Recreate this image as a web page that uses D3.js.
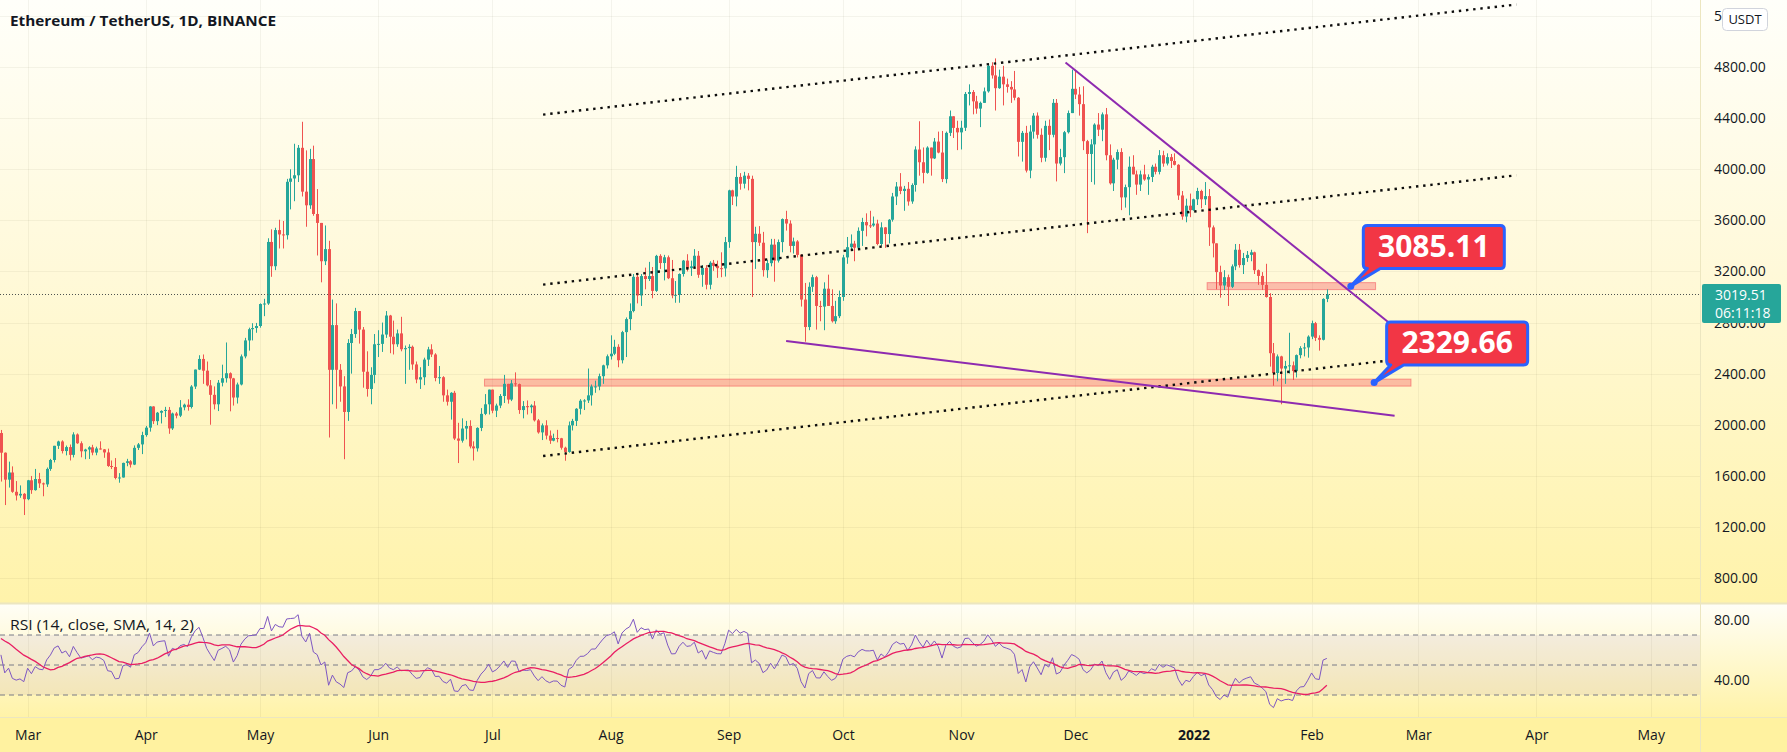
<!DOCTYPE html>
<html><head><meta charset="utf-8">
<script src="https://cdn.jsdelivr.net/npm/d3@7"></script>
<style>html,body{margin:0;padding:0;background:#fff6c0;}svg{display:block;}</style>
</head><body>
<svg id="c" width="1787" height="752"></svg>
<script>
// ---------------- DATA ----------------
const firstDate = "2021-02-22";
const firstOpen = 1935;
// daily closes Feb 22 2021 .. Feb 5 2022
const closes = [
1781,1570,1626,1475,1446,1459,1417,
1565,1488,1575,1541,1533,1654,1724,1835,1869,1794,1825,1764,1924,1855,1792,1806,1823,1782,1814,1807,1783,1677,1669,1583,1587,1701,1714,1688,1819,1846,1919,
1977,2143,2028,2094,2108,2116,1971,2088,2071,2136,2157,2139,2299,2432,2515,2423,2308,2234,2160,2329,2364,2403,2363,2213,2315,2535,2660,2748,2757,2773,
2945,2949,3431,3241,3524,3490,3484,3902,3928,3953,4168,3825,3718,4080,3650,3580,3280,3375,2430,2780,2430,2300,2100,2640,2710,2890,2745,2415,2280,2390,2630,
2633,2706,2855,2689,2630,2715,2591,2600,2610,2472,2354,2372,2510,2590,2550,2366,2372,2230,2180,2250,1892,1875,1970,1990,1830,1815,1975,2085,2160,2275,
2110,2150,2225,2320,2197,2324,2318,2115,2146,2137,2150,2034,1940,1995,1915,1875,1896,1894,1820,1787,1995,2030,2125,2188,2190,2230,2300,2300,2380,2465,2536,
2556,2610,2505,2725,2827,2890,3158,3012,3164,3141,3164,3048,3322,3266,3311,3147,3012,3017,3180,3285,3226,3240,3323,3174,3228,3096,3268,3244,3226,3224,3430,
3835,3787,3940,3887,3950,3925,3430,3495,3425,3210,3265,3410,3285,3430,3610,3575,3400,3435,3330,2980,2765,3080,3155,2930,2925,3065,2930,2810,2850,3000,
3310,3390,3418,3386,3518,3587,3561,3560,3575,3415,3545,3493,3605,3787,3865,3830,3847,3748,3877,4155,4055,3972,4170,4085,4217,4131,3923,4285,4415,4324,4289,
4325,4590,4605,4532,4475,4520,4610,4810,4735,4635,4725,4665,4645,4625,4560,4215,4285,3990,4295,4420,4270,4090,4340,4270,4520,4045,4095,4290,4440,4630,
4585,4510,4220,4120,4195,4350,4310,4430,4110,3890,4075,4135,3780,3860,4020,3960,3880,3960,3920,3940,4020,3980,4110,4045,4095,4065,4035,3795,3630,3715,3680,
3765,3830,3765,3790,3545,3420,3195,3090,3155,3080,3240,3370,3250,3305,3330,3350,3210,3165,3095,3000,2560,2405,2535,2440,2460,2465,2420,2545,2600,2605,2690,
2795,2680,2665,2985,3019.51
];
const highs = [
1959,1783,1711,1674,1559,1525,1465,
1568,1599,1654,1623,1547,1665,1733,1835,1875,1878,1837,1845,1941,1932,1870,1812,1832,1843,1828,1870,1810,1813,1720,1739,1621,1703,1733,1723,1838,1857,1945,
1990,2145,2145,2100,2113,2140,2139,2095,2100,2193,2165,2199,2310,2432,2544,2550,2495,2350,2300,2350,2470,2644,2410,2367,2330,2550,2680,2760,2795,2797,
2950,2986,3460,3530,3542,3605,3595,3925,4000,4200,4190,4372,4148,4160,4185,3845,3580,3560,3440,2980,2950,2475,2380,2670,2750,2915,2890,2765,2575,2450,2710,
2740,2800,2890,2860,2815,2745,2845,2620,2630,2620,2495,2450,2525,2610,2630,2560,2460,2380,2275,2255,2265,2015,2050,2030,2035,1870,1980,2130,2240,2275,
2275,2165,2240,2390,2320,2350,2410,2322,2185,2190,2160,2185,2045,2010,2035,1955,1930,1960,1897,1828,2025,2046,2130,2200,2200,2440,2315,2345,2400,2470,2550,
2700,2665,2630,2735,2840,2950,3180,3185,3180,3230,3275,3235,3330,3335,3330,3325,3290,3125,3185,3290,3335,3285,3375,3360,3250,3250,3280,3290,3285,3350,3470,
3840,3840,4027,3970,3980,3970,3950,3550,3555,3510,3290,3455,3455,3450,3615,3675,3600,3465,3445,3335,3110,3115,3175,3165,2970,3115,3175,3060,2970,3050,
3330,3470,3490,3440,3545,3620,3655,3675,3630,3605,3585,3547,3610,3815,3900,3970,3870,3900,3890,4180,4376,4171,4180,4170,4245,4295,4300,4295,4460,4415,4380,
4380,4605,4665,4620,4575,4530,4640,4825,4838,4868,4780,4810,4710,4690,4770,4565,4300,4340,4345,4440,4445,4320,4380,4390,4550,4550,4160,4300,4460,4780,
4778,4645,4650,4230,4235,4360,4440,4445,4480,4195,4090,4155,4165,3880,4100,4110,3990,3990,4035,3960,4035,4045,4150,4145,4125,4120,4125,4040,3830,3770,3810,
3770,3855,3840,3900,3845,3560,3420,3245,3210,3175,3255,3415,3415,3345,3360,3370,3355,3215,3195,3260,3030,2640,2550,2540,2500,2720,2495,2550,2615,2640,2700,
2815,2805,2700,2990,3060
];
const lows = [
1555,1371,1508,1467,1407,1428,1293,
1409,1459,1484,1505,1440,1513,1639,1705,1810,1775,1760,1720,1744,1850,1745,1730,1732,1761,1761,1805,1741,1670,1653,1572,1546,1586,1675,1665,1684,1802,1770,
1906,1946,2005,1997,2010,2060,1929,1959,2050,2060,2113,2110,2127,2280,2428,2320,2300,2000,2120,2107,2300,2330,2105,2150,2166,2308,2520,2580,2660,2720,
2760,2850,2938,3158,3210,3380,3380,3450,3686,3750,3900,3787,3550,3690,3636,3325,3115,3250,1900,2160,2125,2180,1730,2030,2400,2680,2635,2290,2220,2160,2325,
2530,2570,2680,2560,2550,2610,2575,2320,2430,2430,2325,2280,2310,2460,2530,2340,2320,2180,2150,2040,1880,1700,1860,1885,1815,1720,1790,1950,2075,2080,
2090,2060,2130,2170,2165,2185,2300,2085,2050,2080,2090,2025,1930,1880,1885,1850,1870,1862,1805,1718,1781,1955,1990,2080,2115,2170,2150,2250,2270,2320,2440,
2510,2545,2450,2480,2530,2740,2880,2950,2930,3060,3125,2990,3040,3220,3130,3140,2990,2955,2955,3160,3200,3165,3230,3150,3080,3060,3060,3205,3150,3155,3160,
3385,3720,3710,3840,3850,3835,3000,3220,3400,3160,3150,3240,3120,3270,3350,3520,3350,3340,3310,2925,2650,2740,3040,2745,2810,2740,2930,2800,2790,2835,
2970,3260,3370,3280,3375,3400,3475,3540,3550,3405,3400,3385,3420,3590,3720,3805,3675,3715,3730,3825,3950,3890,3965,3950,4080,4125,3900,3890,4260,4245,4150,
4155,4300,4500,4430,4435,4330,4520,4600,4710,4460,4630,4500,4600,4520,4540,4100,4060,3975,3930,4240,4240,4055,4060,4150,4250,3905,4030,3970,4280,4445,
4550,4420,4150,3500,3900,3880,4260,4220,4070,3880,3830,4000,3680,3700,3640,3960,3800,3830,3910,3800,3900,3960,3960,4020,4030,4010,4030,3760,3605,3585,3625,
3675,3720,3695,3720,3400,3310,3060,2995,3055,2930,3070,3210,3230,3180,3275,3280,3180,3095,3055,2995,2455,2305,2340,2160,2320,2400,2350,2370,2520,2535,2525,
2670,2655,2580,2660,2960
];
// closes before the first visible candle (Jan 1 .. Feb 21 2021), used only to seed RSI
const warmupCloses = [
730,775,979,1041,1100,1208,1225,1224,1281,1262,1090,1044,1131,1218,1171,1233,1230,1257,1377,1379,1110,1232,1234,1392,1324,1357,1253,1331,1382,1377,1313,
1370,1512,1661,1594,1719,1678,1614,1752,1770,1743,1784,1843,1814,1800,1780,1782,1846,1938,1960,1919,1935
];
const priceTicks = [800,1200,1600,2000,2400,2800,3200,3600,4000,4400,4800,5200];
const rsiTicks = [80,40];
const rsiBands = [70,50,30];
const monthTicks = ["2021-03-01","2021-04-01","2021-05-01","2021-06-01","2021-07-01","2021-08-01","2021-09-01","2021-10-01","2021-11-01","2021-12-01","2022-01-01","2022-02-01","2022-03-01","2022-04-01","2022-05-01"];
const monthLabels = ["Mar","Apr","May","Jun","Jul","Aug","Sep","Oct","Nov","Dec","2022","Feb","Mar","Apr","May"];
const lastPrice = 3019.51;
const countdown = "06:11:18";
// drawings: [date, price]
const channelLines = [
  [["2021-07-14T07:00",4428],["2022-03-26T17:00",5290]],
  [["2021-07-14T07:00",3097],["2022-03-26T17:00",3953]],
  [["2021-07-14T07:00",1755],["2022-02-20T05:00",2499]]
];
const wedgeLines = [
  [["2021-11-28T10:00",4836],["2022-02-21T02:00",2804]],
  [["2021-09-16T02:00",2656],["2022-02-22T19:00",2071]]
];
const levelZones = [
  {price:3085.11, from:"2022-01-04T14:00", to:"2022-02-17T19:00"},
  {price:2329.66, from:"2021-06-28T22:00", to:"2022-02-27T02:00"}
];
const callouts = [
  {text:"3085.11", date:"2022-02-11T07:00", price:3085.11},
  {text:"2329.66", date:"2022-02-17T10:00", price:2329.66}
];

// ---------------- LAYOUT ----------------
const W=1787, H=752, plotR=1700, mainB=603, rsiT=604, rsiB=717;
const svg = d3.select("#c");
const pd = s => new Date(s.length>10 ? s+"Z" : s+"T00:00Z");
const x = d3.scaleUtc().domain([pd("2021-03-01"), pd("2022-02-01")]).range([27.6, 1311.6]);
const y = d3.scaleLinear().domain([4800,800]).range([67.1,578]);
const yr = d3.scaleLinear().domain([80,40]).range([620,680]);
const FONT = "'Open Sans', 'Noto Sans', sans-serif";

const defs = svg.append("defs");
function grad(id, stops){
  const g = defs.append("linearGradient").attr("id",id).attr("x1",0).attr("x2",0).attr("y1",0).attr("y2",1);
  stops.forEach(s=>g.append("stop").attr("offset",s[0]).attr("stop-color",s[1]));
}
grad("gMain",[[0,"#fffffa"],[0.45,"#fff9d9"],[1,"#fff3aa"]]);
grad("gRsi",[[0,"#fffef6"],[1,"#fff3a8"]]);
defs.append("clipPath").attr("id","clipMain").append("rect").attr("x",0).attr("y",0).attr("width",plotR).attr("height",mainB);
defs.append("clipPath").attr("id","clipRsi").append("rect").attr("x",0).attr("y",rsiT).attr("width",plotR).attr("height",rsiB-rsiT);

svg.append("rect").attr("x",0).attr("y",0).attr("width",W).attr("height",mainB).attr("fill","url(#gMain)");
svg.append("rect").attr("x",0).attr("y",rsiT).attr("width",W).attr("height",rsiB-rsiT).attr("fill","url(#gRsi)");
svg.append("rect").attr("x",0).attr("y",rsiB).attr("width",W).attr("height",H-rsiB).attr("fill","#fff2a0");

// grid
const grid = svg.append("g").attr("stroke","rgba(60,60,40,0.06)").attr("stroke-width",1);
priceTicks.forEach(p=>grid.append("line").attr("x1",0).attr("x2",plotR).attr("y1",Math.round(y(p))+0.5).attr("y2",Math.round(y(p))+0.5));
monthTicks.forEach(m=>grid.append("line").attr("x1",Math.round(x(pd(m)))+0.5).attr("x2",Math.round(x(pd(m)))+0.5).attr("y1",0).attr("y2",rsiB));

// separators
svg.append("line").attr("x1",0).attr("x2",W).attr("y1",mainB+0.5).attr("y2",mainB+0.5).attr("stroke","#ece6c0").attr("stroke-width",2);
svg.append("line").attr("x1",0).attr("x2",W).attr("y1",rsiB+0.5).attr("y2",rsiB+0.5).attr("stroke","#ece6c0").attr("stroke-width",1);
svg.append("line").attr("x1",plotR+0.5).attr("x2",plotR+0.5).attr("y1",0).attr("y2",H).attr("stroke","#ece6c0").attr("stroke-width",1);

// candles
const candles = closes.map((c,i)=>{
  const d = new Date(pd(firstDate).getTime() + i*86400000);
  const o = i===0 ? firstOpen : closes[i-1];
  return {d, o, c, h:Math.max(highs[i],o,c), l:Math.min(lows[i],o,c)};
});
const main = svg.append("g").attr("clip-path","url(#clipMain)");

// level zones
levelZones.forEach(z=>{
  main.append("rect").attr("x",x(pd(z.from))).attr("width",x(pd(z.to))-x(pd(z.from)))
    .attr("y",y(z.price)-3.5).attr("height",7)
    .attr("fill","rgba(242,54,69,0.3)").attr("stroke","rgba(242,54,69,0.45)").attr("stroke-width",1);
});

const bw = 3;
const cg = main.append("g");
cg.selectAll("line.w").data(candles).join("line").attr("class","w")
  .attr("x1",d=>Math.round(x(d.d))+0.5).attr("x2",d=>Math.round(x(d.d))+0.5)
  .attr("y1",d=>y(d.h)).attr("y2",d=>y(d.l))
  .attr("stroke",d=>d.c>=d.o?"#26a69a":"#ef5350").attr("stroke-width",1);
cg.selectAll("rect.b").data(candles).join("rect").attr("class","b")
  .attr("x",d=>Math.round(x(d.d))-1).attr("width",bw)
  .attr("y",d=>y(Math.max(d.o,d.c))).attr("height",d=>Math.max(1,Math.abs(y(d.o)-y(d.c))))
  .attr("fill",d=>d.c>=d.o?"#26a69a":"#ef5350");

// current price line
main.append("line").attr("x1",0).attr("x2",plotR).attr("y1",y(lastPrice)).attr("y2",y(lastPrice))
  .attr("stroke","#4f5350").attr("stroke-width",1).attr("stroke-dasharray","1 2");

// channel lines
const lineGen = d3.line().x(p=>x(pd(p[0]))).y(p=>y(p[1]));
channelLines.forEach(l=>main.append("path").attr("d",lineGen(l)).attr("fill","none")
  .attr("stroke","#0d0d0d").attr("stroke-width",2.4).attr("stroke-dasharray","2.4 4.8"));
wedgeLines.forEach(l=>main.append("path").attr("d",lineGen(l)).attr("fill","none")
  .attr("stroke","#8e2ab0").attr("stroke-width",2));

// callouts
callouts.forEach(co=>{
  const ax = x(pd(co.date)), ay = y(co.price);
  const L = ax+12.5, T = ay-60.7, Wd = 141, Hh = 43, r = 4, R = L+Wd, B = T+Hh;
  const t1 = L+4, t2 = L+17;
  const p = `M${L+r},${T} H${R-r} Q${R},${T} ${R},${T+r} V${B-r} Q${R},${B} ${R-r},${B} H${t2} L${ax},${ay} L${t1},${B} H${L+r} Q${L},${B} ${L},${B-r} V${T+r} Q${L},${T} ${L+r},${T} Z`;
  svg.append("path").attr("d",p).attr("fill","#f23645").attr("stroke","#2962ff").attr("stroke-width",3).attr("stroke-linejoin","round");
  svg.append("circle").attr("cx",ax).attr("cy",ay).attr("r",3.5).attr("fill","#2962ff");
  svg.append("text").attr("x",L+Wd/2).attr("y",T+31.5).attr("text-anchor","middle")
    .attr("font-family",FONT).attr("font-weight",700).attr("font-size",30).attr("fill","#ffffff").text(co.text);
});

// RSI
const all = warmupCloses.concat(closes);
const len = 14;
let ag=0, al=0; const rsiAll = new Array(all.length).fill(null);
for(let i=1;i<all.length;i++){
  const ch = all[i]-all[i-1], g = Math.max(ch,0), lo = Math.max(-ch,0);
  if(i<=len){ ag+=g/len; al+=lo/len; if(i===len) rsiAll[i]= al===0?100:100-100/(1+ag/al); }
  else { ag=(ag*(len-1)+g)/len; al=(al*(len-1)+lo)/len; rsiAll[i]= al===0?100:100-100/(1+ag/al); }
}
const smaAll = rsiAll.map((v,i)=>{
  if(i<len+len-1) return null;
  let s=0; for(let k=i-len+1;k<=i;k++) s+=rsiAll[k]; return s/len;
});
const off = warmupCloses.length;
const rsiPts = candles.map((c,i)=>({d:c.d, v:rsiAll[off+i], m:smaAll[off+i]}));

const rg = svg.append("g").attr("clip-path","url(#clipRsi)");
rg.append("rect").attr("x",0).attr("width",plotR).attr("y",yr(70)).attr("height",yr(30)-yr(70)).attr("fill","rgba(126,87,194,0.09)");
rsiBands.forEach(b=>rg.append("line").attr("x1",0).attr("x2",plotR).attr("y1",yr(b)).attr("y2",yr(b))
  .attr("stroke","#787b86").attr("stroke-width",1).attr("stroke-dasharray","5 4"));
rg.append("path").datum(rsiPts).attr("d",d3.line().x(p=>x(p.d)).y(p=>yr(p.v))).attr("fill","none").attr("stroke","#7e57c2").attr("stroke-width",1);
rg.append("path").datum(rsiPts).attr("d",d3.line().x(p=>x(p.d)).y(p=>yr(p.m))).attr("fill","none").attr("stroke","#e91e63").attr("stroke-width",1.3);

// axes
const pa = svg.append("g").attr("transform","translate(1714,0)")
  .call(d3.axisRight(y).tickValues(priceTicks).tickFormat(d3.format(".2f")).tickSize(0).tickPadding(0));
const ra = svg.append("g").attr("transform","translate(1714,0)")
  .call(d3.axisRight(yr).tickValues(rsiTicks).tickFormat(d3.format(".2f")).tickSize(0).tickPadding(0));
const xa = svg.append("g").attr("transform",`translate(0,${rsiB})`)
  .call(d3.axisBottom(x).tickValues(monthTicks.map(pd)).tickFormat((d,i)=>monthLabels[i]).tickSize(0).tickPadding(13));
[pa,ra,xa].forEach(a=>{
  a.select(".domain").remove();
  a.selectAll("text").attr("font-family",FONT).attr("font-size",14).attr("fill","#131722");
});
xa.selectAll("text").filter((d,i)=>monthLabels[i]==="2022").attr("font-weight",700);

// USDT badge
svg.append("rect").attr("x",1722.5).attr("y",8.5).attr("width",45).attr("height",22).attr("rx",4)
  .attr("fill","#ffffff").attr("stroke","#d1d4dc");
svg.append("text").attr("x",1745).attr("y",24).attr("text-anchor","middle").attr("font-family",FONT)
  .attr("font-size",13).attr("fill","#131722").text("USDT");

// last price badge
svg.append("rect").attr("x",1702).attr("y",284).attr("width",79).attr("height",39).attr("rx",2).attr("fill","#26a69a");
svg.append("text").attr("x",1715).attr("y",y(lastPrice)+5).attr("font-family",FONT).attr("font-size",14)
  .attr("fill","#ffffff").text(lastPrice.toFixed(2));
svg.append("text").attr("x",1715).attr("y",y(lastPrice)+23).attr("font-family",FONT).attr("font-size",14)
  .attr("fill","#ffffff").text(countdown);

// titles
svg.append("text").attr("x",10).attr("y",26).attr("font-family",FONT).attr("font-weight",700).attr("font-size",15)
  .attr("fill","#131722").attr("textLength",266).attr("lengthAdjust","spacingAndGlyphs").text("Ethereum / TetherUS, 1D, BINANCE");
svg.append("text").attr("x",10).attr("y",630).attr("font-family",FONT).attr("font-size",14)
  .attr("fill","#131722").attr("textLength",184).attr("lengthAdjust","spacingAndGlyphs").text("RSI (14, close, SMA, 14, 2)");
</script>
</body></html>
